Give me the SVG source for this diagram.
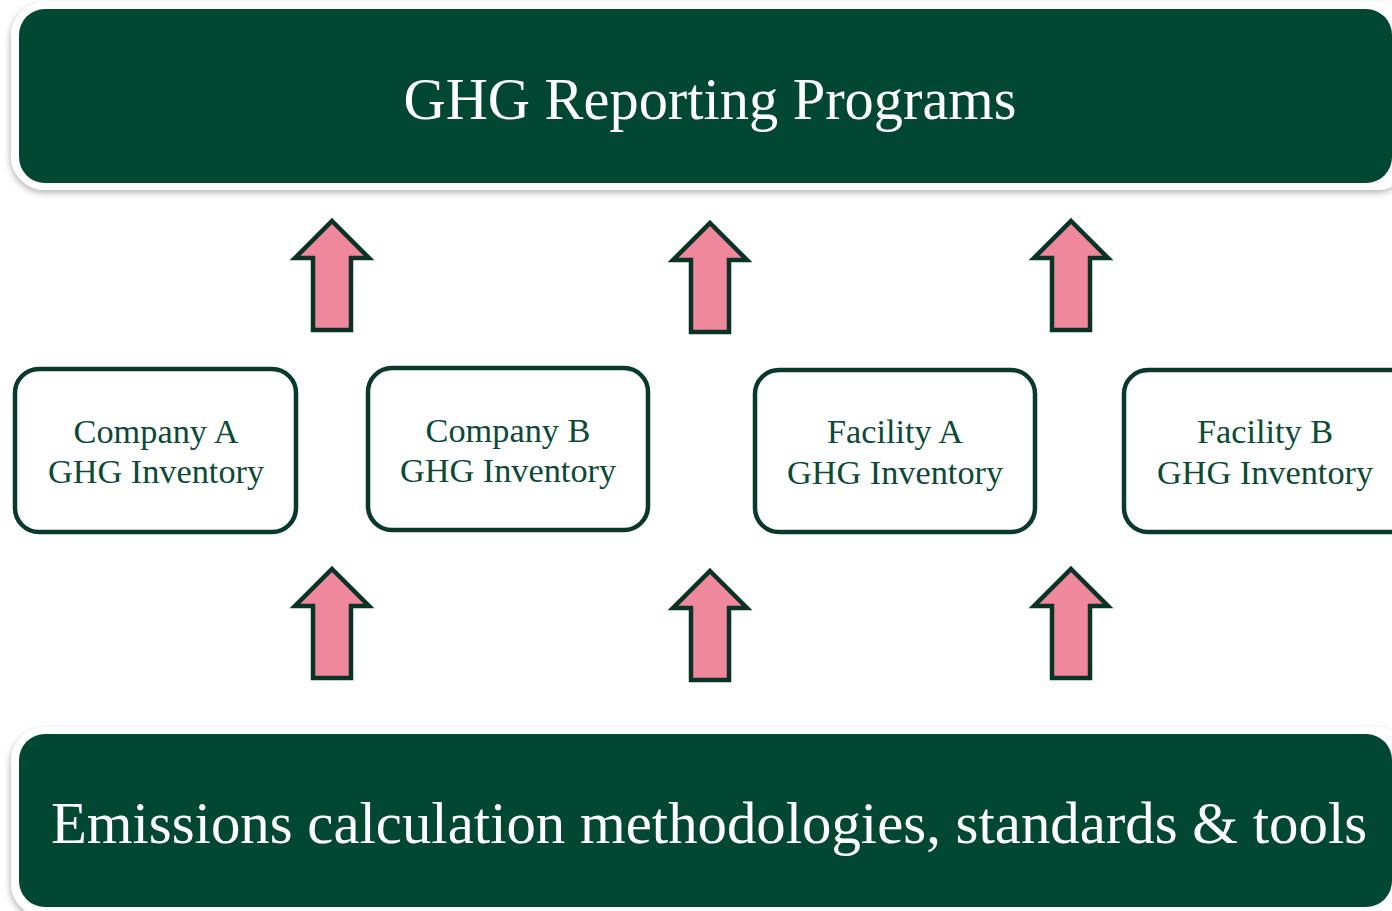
<svg xmlns="http://www.w3.org/2000/svg" xmlns:xlink="http://www.w3.org/1999/xlink" width="1392" height="911" viewBox="0 0 1392 911">
  <defs>
    <filter id="soft-shadow" x="-5%" y="-20%" width="110%" height="140%">
      <feDropShadow dx="-1" dy="3" stdDeviation="3" flood-color="#000" flood-opacity="0.28"/>
    </filter>
    <!-- block up-arrow, tip at (0,0) -->
    <path id="up-arrow" d="M0,3 L37,40 L19,40 L19,112 L-19,112 L-19,40 L-37,40 Z"/>
  </defs>
  <style>
    .frame { fill: #ffffff; filter: url(#soft-shadow); }
    .banner { fill: #024731; }
    .banner-text { font-family: "Liberation Serif", "Times New Roman", serif; fill: #ffffff; text-anchor: middle; }
    .inv-box { fill: #ffffff; stroke: #093927; stroke-width: 4.5; }
    .inv-text { font-family: "Liberation Serif", "Times New Roman", serif; font-size: 34.3px; fill: #0b4a37; text-anchor: middle; }
    .arrow { fill: #f0889d; stroke: #0a3325; stroke-width: 4.5; stroke-linejoin: miter; }
  </style>
  <rect width="1392" height="911" fill="#ffffff"/>

  <g id="reporting-programs">
    <rect class="frame" x="11" y="2" width="1400" height="188" rx="34"/>
    <rect class="banner" x="19" y="9" width="1373" height="174" rx="26"/>
    <text class="banner-text" x="710" y="119" font-size="58.4">GHG Reporting Programs</text>
  </g>

  <g id="company-a">
    <rect class="inv-box" x="15" y="369" width="281" height="163" rx="24"/>
    <text class="inv-text" x="156" y="443">Company A</text>
    <text class="inv-text" x="156" y="483">GHG Inventory</text>
  </g>

  <g id="company-b">
    <rect class="inv-box" x="368" y="368" width="280" height="162" rx="24"/>
    <text class="inv-text" x="508" y="442">Company B</text>
    <text class="inv-text" x="508" y="482">GHG Inventory</text>
  </g>

  <g id="facility-a">
    <rect class="inv-box" x="755" y="370" width="280" height="162" rx="24"/>
    <text class="inv-text" x="895" y="443">Facility A</text>
    <text class="inv-text" x="895" y="484">GHG Inventory</text>
  </g>

  <g id="facility-b">
    <rect class="inv-box" x="1124" y="370" width="290" height="162" rx="24"/>
    <text class="inv-text" x="1265" y="443">Facility B</text>
    <text class="inv-text" x="1265" y="484">GHG Inventory</text>
  </g>

  <g id="methodologies">
    <rect class="frame" x="11" y="727" width="1400" height="190" rx="34"/>
    <rect class="banner" x="19" y="734" width="1373" height="173" rx="26"/>
    <text class="banner-text" x="709" y="843" font-size="58.8">Emissions calculation methodologies, standards &amp; tools</text>
  </g>

  <g id="connectors">
    <use class="arrow" href="#up-arrow" x="332" y="218"/>
    <use class="arrow" href="#up-arrow" x="710" y="220"/>
    <use class="arrow" href="#up-arrow" x="1071" y="218"/>
    <use class="arrow" href="#up-arrow" x="332" y="566"/>
    <use class="arrow" href="#up-arrow" x="710" y="568"/>
    <use class="arrow" href="#up-arrow" x="1071" y="566"/>
  </g>
</svg>
